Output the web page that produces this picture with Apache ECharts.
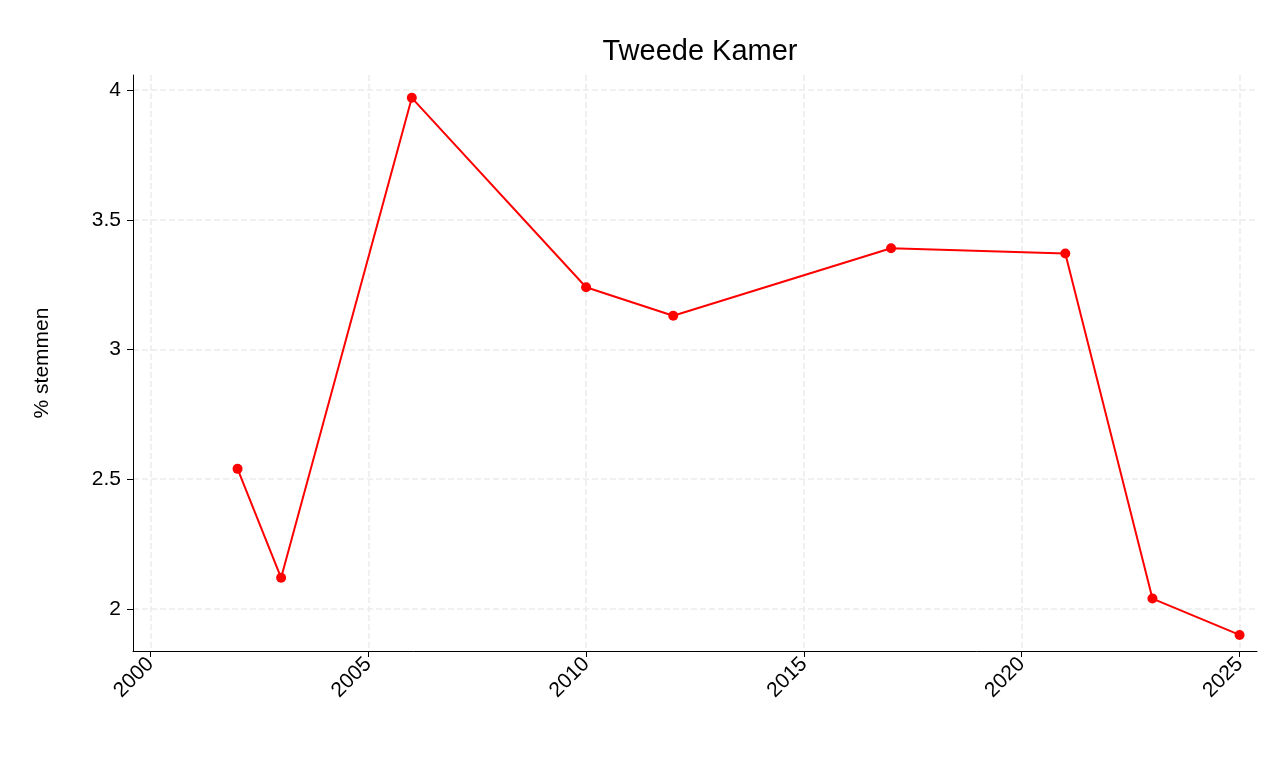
<!DOCTYPE html><html><head><meta charset="utf-8"><script src="https://cdn.jsdelivr.net/npm/echarts@6/dist/echarts.min.js"></script></head><body style="margin:0"><div id="c" style="width:1285px;height:771px"></div><script>
const years=[2002,2003,2006,2010,2012,2017,2021,2023,2025];
const values=[2.54,2.12,3.97,3.24,3.13,3.39,3.37,2.04,1.90];
const xTicks=[2000,2005,2010,2015,2020,2025];
const yTicks=[2,2.5,3,3.5,4];
const ch=echarts.init(document.getElementById('c'));
const grid={type:'dashed',color:'#ececec',width:1.5};
const F='Arial, Liberation Sans';
ch.setOption({animation:false,
title:{text:'Tweede Kamer',left:695,top:32,textAlign:'center',textStyle:{fontFamily:F,fontSize:29,fontWeight:'normal',color:'#000'}},
grid:{left:133,right:28,top:75,bottom:120},
xAxis:{type:'value',min:1999.6,max:2025.4,axisLine:{onZero:false,lineStyle:{color:'#000'}},
axisTick:{customValues:xTicks,length:6,lineStyle:{color:'#000'}},
axisLabel:{customValues:xTicks,formatter:v=>String(Math.round(v)),rotate:45,fontSize:21,color:'#000',fontFamily:F,margin:10},
splitLine:{show:true,lineStyle:grid}},
yAxis:{type:'value',min:1.838,max:4.058,name:'% stemmen',nameLocation:'middle',nameGap:80,nameTextStyle:{fontSize:21,color:'#000',fontFamily:F},
axisLine:{show:true,lineStyle:{color:'#000'}},axisTick:{show:true,customValues:yTicks,length:6,lineStyle:{color:'#000'}},
axisLabel:{customValues:yTicks,formatter:v=>String(v),fontSize:21,color:'#000',fontFamily:F,margin:12},
splitLine:{show:true,lineStyle:grid}},
series:[{type:'line',data:years.map((y,i)=>[y,values[i]]),color:'#ff0000',lineStyle:{width:2},symbol:'circle',symbolSize:10,itemStyle:{color:'#ff0000'}}]});
</script></body></html>
